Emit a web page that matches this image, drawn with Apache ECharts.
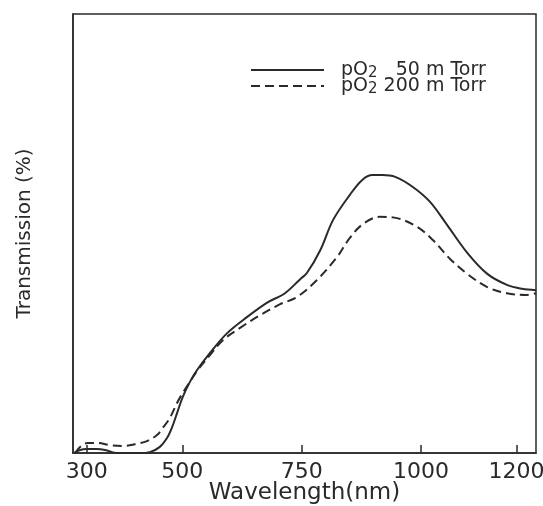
<!DOCTYPE html>
<html>
<head>
<meta charset="utf-8">
<script src="https://cdn.jsdelivr.net/npm/echarts@6/dist/echarts.min.js"></script>
<style>
html,body{margin:0;padding:0;background:#fff;}
#c{width:543px;height:506px;}
</style>
</head>
<body>
<div id="c"></div>
<script>
// Wavelength ticks (nm)
var xTicks = [300, 500, 750, 1000, 1200];

// pO2 50 mTorr (solid): wavelength (nm), transmission (arbitrary, 0-100 of frame)
var solidX = [273, 286, 300, 321, 338, 363, 390, 411, 432, 453, 468, 478, 489, 501, 516, 531, 558, 594, 636, 677, 715, 747, 761, 789, 816, 851, 877, 898, 919, 946, 983, 1019, 1055, 1097, 1139, 1180, 1212, 1241];
var solidY = [0, 0.7, 0.9, 0.9, 0.7, 0, 0, 0, 0.2, 1.4, 3.4, 5.7, 9.1, 12.8, 16.2, 18.9, 22.8, 27.3, 31.0, 34.2, 36.4, 39.6, 41.0, 46.2, 53.1, 58.8, 62.2, 63.3, 63.3, 62.9, 60.6, 57.2, 51.9, 45.6, 40.8, 38.3, 37.4, 37.1];

// pO2 200 mTorr (dashed)
var dashX = [275, 288, 302, 321, 348, 376, 405, 426, 447, 459, 474, 489, 501, 516, 531, 558, 585, 621, 663, 705, 740, 782, 824, 851, 879, 914, 950, 992, 1025, 1061, 1097, 1139, 1180, 1222, 1241];
var dashY = [0, 1.6, 2.3, 2.3, 1.8, 1.6, 2.1, 2.7, 4.1, 5.7, 8.0, 11.4, 13.7, 16.2, 18.7, 22.3, 25.7, 28.5, 31.4, 33.9, 35.5, 39.4, 44.6, 49.0, 52.2, 53.8, 53.5, 51.5, 48.5, 44.2, 40.8, 37.8, 36.4, 36.0, 36.4];

var seriesNames = ['pO2 50 m Torr', 'pO2 200 m Torr'];

function zip(xs, ys) { return xs.map(function (x, i) { return [x, ys[i]]; }); }

var chart = echarts.init(document.getElementById('c'), null, {renderer: 'canvas'});
var ink = '#2a2a2a';
chart.setOption({
  backgroundColor: '#ffffff',
  animation: false,
  grid: {left: 73, right: 7, top: 14, bottom: 53, containLabel: false, outerBoundsMode: 'none', show: true, borderColor: ink, borderWidth: 1.5, backgroundColor: 'transparent'},
  legend: {
    orient: 'vertical',
    left: 245,
    top: 54,
    itemWidth: 73,
    itemHeight: 12,
    itemGap: -6,
    data: seriesNames,
    itemStyle: {color: 'transparent', borderWidth: 0, opacity: 0},
    formatter: function (name) {
      if (name === seriesNames[0]) return '{a|pO}{s|2}{a|   50 m Torr}';
      return '{a|pO}{s|2}{a| 200 m Torr}';
    },
    textStyle: {
      color: ink,
      fontFamily: 'DejaVu Sans',
      fontSize: 19,
      padding: [0, 0, 0, 12],
      rich: {
        a: {fontFamily: 'DejaVu Sans', fontSize: 19, color: ink, lineHeight: 16},
        s: {fontFamily: 'DejaVu Sans', fontSize: 15, color: ink, lineHeight: 16, padding: [7, 0, 0, 0]}
      }
    }
  },
  xAxis: {
    type: 'value',
    min: 271,
    max: 1241,
    name: 'Wavelength(nm)',
    nameLocation: 'middle',
    nameGap: 29,
    nameMoveOverlap: false,
    nameTextStyle: {fontFamily: 'DejaVu Sans', fontSize: 23, color: ink},
    axisLine: {show: true, onZero: false, lineStyle: {color: ink, width: 1.5}},
    axisTick: {show: true, inside: true, length: 8, customValues: xTicks, lineStyle: {color: ink, width: 1.5}},
    axisLabel: {show: true, customValues: xTicks, margin: 8, fontFamily: 'DejaVu Sans', fontSize: 22, color: ink,
      formatter: function (v) { return String(v); }},
    splitLine: {show: false}
  },
  yAxis: {
    type: 'value',
    min: 0,
    max: 100,
    name: 'Transmission (%)',
    nameLocation: 'middle',
    nameGap: 38,
    nameTextStyle: {fontFamily: 'DejaVu Sans', fontSize: 20, color: ink},
    axisLine: {show: true, lineStyle: {color: ink, width: 1.5}},
    axisTick: {show: false},
    axisLabel: {show: false},
    splitLine: {show: false}
  },
  series: [
    {
      name: seriesNames[0],
      type: 'line',
      data: zip(solidX, solidY),
      showSymbol: false,
      symbol: 'none',
      smooth: 0.35,
      lineStyle: {color: ink, width: 2, type: 'solid'},
      itemStyle: {color: ink}
    },
    {
      name: seriesNames[1],
      type: 'line',
      data: zip(dashX, dashY),
      showSymbol: false,
      symbol: 'none',
      smooth: 0.35,
      lineStyle: {color: ink, width: 2, type: [9, 5]},
      itemStyle: {color: ink}
    }
  ]
});
</script>
</body>
</html>
